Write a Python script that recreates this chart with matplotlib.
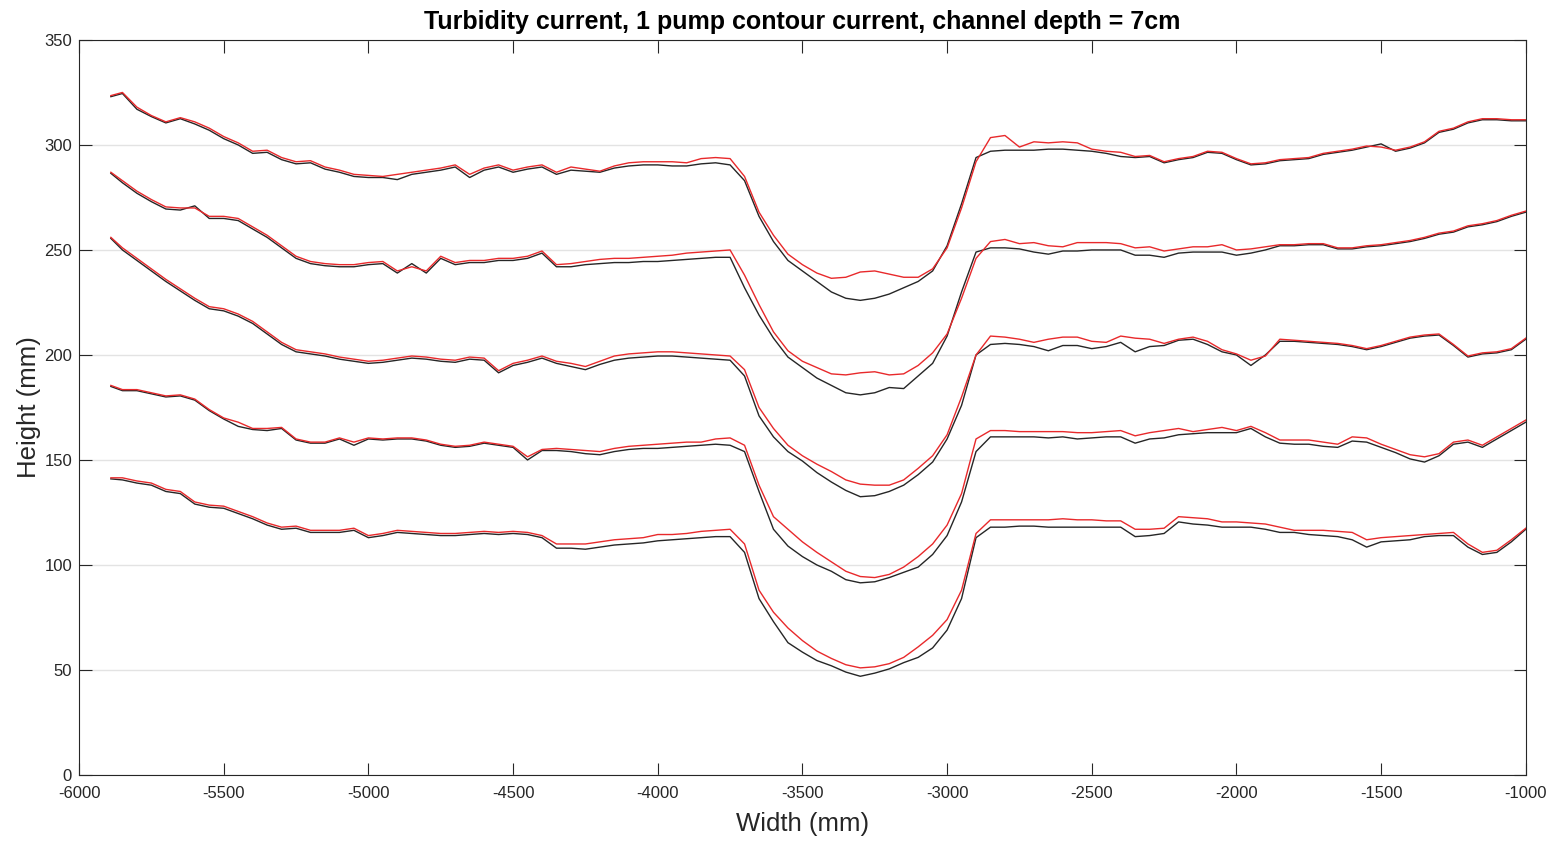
import matplotlib
matplotlib.use('Agg')
import matplotlib.pyplot as plt

plt.rcParams['font.family'] = ['Liberation Sans', 'DejaVu Sans']
plt.rcParams['axes.unicode_minus'] = False

# Width positions (mm) shared by all profiles
width_mm = [-5890] + list(range(-5850, -999, 50))

# Profile 1 (top)
black_1 = [323, 324.5, 317, 313.5, 310.5, 312.5, 310, 307, 303, 300,
           296, 296.5, 293, 291, 291.5, 288.5, 287, 285, 284.5, 284.5,
           283.5, 286, 287, 288, 289.5, 284.5, 288, 289.5, 287, 288.5,
           289.5, 286, 288, 287.5, 287, 289, 290, 290.5, 290.5, 290,
           290, 291, 291.5, 290.5, 283, 266, 254, 245, 240, 235,
           230, 227, 226, 227, 229, 232, 235, 240, 252, 272,
           294, 297, 297.5, 297.5, 297.5, 298, 298, 297.5, 297, 296,
           294.5, 294, 294.5, 291.5, 293, 294, 296.5, 296, 293, 290.5,
           291, 292.5, 293, 293.5, 295.5, 296.5, 297.5, 299, 300.5, 297,
           298.5, 301, 306, 307.5, 310.5, 312, 312, 311.5, 311.5]
red_1 = [323.5, 325, 318, 314, 311, 313, 311, 308, 304, 301,
         297, 297.5, 294, 292, 292.5, 289.5, 288, 286, 285.5, 285,
         286, 287, 288, 289, 290.5, 286, 289, 290.5, 288, 289.5,
         290.5, 287, 289.5, 288.5, 287.5, 290, 291.5, 292, 292, 292,
         291.5, 293.5, 294, 293.5, 285, 268, 257, 248, 243, 239,
         236.5, 237, 239.5, 240, 238.5, 237, 237, 241, 251, 270,
         292, 303.5, 304.5, 299, 301.5, 301, 301.5, 301, 298, 297,
         296.5, 294.5, 295, 292, 293.5, 294.5, 297, 296.5, 293.5, 291,
         291.5, 293, 293.5, 294, 296, 297, 298, 299.5, 299, 297.5,
         299, 301.5, 306.5, 308, 311, 312.5, 312.5, 312, 312]

# Profile 2
black_2 = [286.5, 282, 277, 273, 269.5, 269, 271, 265, 265, 264,
           260, 256, 251, 246, 243.5, 242.5, 242, 242, 243, 243.5,
           239, 243.5, 239, 246, 243, 244, 244, 245, 245, 246,
           248.5, 242, 242, 243, 243.5, 244, 244, 244.5, 244.5, 245,
           245.5, 246, 246.5, 246.5, 232, 219, 208, 199, 194, 189,
           185.5, 182, 181, 182, 184.5, 184, 190, 196, 209, 230,
           249, 251, 251, 250.5, 249, 248, 249.5, 249.5, 250, 250,
           250, 247.5, 247.5, 246.5, 248.5, 249, 249, 249, 247.5, 248.5,
           250, 252, 252, 252.5, 252.5, 250.5, 250.5, 251.5, 252, 253,
           254, 255.5, 257.5, 258.5, 261, 262, 263.5, 266, 268]
red_2 = [287, 283, 278, 274, 270.5, 270, 270, 266, 266, 265,
         261, 257, 252, 247, 244.5, 243.5, 243, 243, 244, 244.5,
         240, 242, 240, 247, 244, 245, 245, 246, 246, 247,
         249.5, 243, 243.5, 244.5, 245.5, 246, 246, 246.5, 247, 247.5,
         248.5, 249, 249.5, 250, 238, 224, 211, 202, 197, 194,
         191, 190.5, 191.5, 192, 190.5, 191, 195, 201, 210, 227,
         246, 254, 255, 253, 253.5, 252, 251.5, 253.5, 253.5, 253.5,
         253, 251, 251.5, 249.5, 250.5, 251.5, 251.5, 252.5, 250, 250.5,
         251.5, 252.5, 252.5, 253, 253, 251, 251, 252, 252.5, 253.5,
         254.5, 256, 258, 259, 261.5, 262.5, 264, 266.5, 268.5]

# Profile 3
black_3 = [255.5, 250, 245, 240, 235, 230.5, 226, 222, 221, 218.5,
           215, 210, 205, 201.5, 200.5, 199.5, 198, 197, 196, 196.5,
           197.5, 198.5, 198, 197, 196.5, 198, 197.5, 191.5, 195, 196.5,
           198.5, 196, 194.5, 193, 195.5, 197.5, 198.5, 199, 199.5, 199.5,
           199, 198.5, 198, 197.5, 190, 171, 161, 154, 149.5, 144,
           139.5, 135.5, 132.5, 133, 135, 138, 143, 149, 160, 176,
           200, 205, 205.5, 205, 204, 202, 204.5, 204.5, 203, 204,
           206, 201.5, 204, 204.5, 207, 207.5, 205, 201.5, 200, 195,
           200, 206.5, 206.5, 206, 205.5, 205, 204, 202.5, 204, 206,
           208, 209, 209.5, 204.5, 199, 200.5, 201, 202.5, 207.5]
red_3 = [256, 251, 246, 241, 236, 231.5, 227, 223, 222, 219.5,
         216, 211, 206, 202.5, 201.5, 200.5, 199, 198, 197, 197.5,
         198.5, 199.5, 199, 198, 197.5, 199, 198.5, 192.5, 196, 197.5,
         199.5, 197, 196, 194.5, 197, 199.5, 200.5, 201, 201.5, 201.5,
         201, 200.5, 200, 199.5, 193, 175, 165, 157, 152, 148,
         144.5, 140.5, 138.5, 138, 138, 140.5, 146, 152, 162, 180,
         200, 209, 208.5, 207.5, 206, 207.5, 208.5, 208.5, 206.5, 206,
         209, 208, 207.5, 205.5, 207.5, 208.5, 206.5, 202.5, 200.5, 197.5,
         199.5, 207.5, 207, 206.5, 206, 205.5, 204.5, 203, 204.5, 206.5,
         208.5, 209.5, 210, 205, 199.5, 201, 201.5, 203, 208]

# Profile 4
black_4 = [185, 183, 183, 181.5, 180, 180.5, 178.5, 173.5, 169.5, 166,
           164.5, 164, 165, 159.5, 158, 158, 160, 157, 160, 159.5,
           160, 160, 159, 157, 156, 156.5, 158, 157, 156, 150,
           154.5, 154.5, 154, 153, 152.5, 154, 155, 155.5, 155.5, 156,
           156.5, 157, 157.5, 157, 154, 135, 117, 109, 104, 100,
           97, 93, 91.5, 92, 94, 96.5, 99, 105, 114, 130,
           154, 161, 161, 161, 161, 160.5, 161, 160, 160.5, 161,
           161, 158, 160, 160.5, 162, 162.5, 163, 163, 163, 165,
           161, 158, 157.5, 157.5, 156.5, 156, 159, 158.5, 156, 153.5,
           150.5, 149, 152, 157.5, 158.5, 156, 160, 164, 168]
red_4 = [185.5, 183.5, 183.5, 182, 180.5, 181, 179, 174, 170, 168,
         165, 165, 165.5, 160, 158.5, 158.5, 160.5, 158.5, 160.5, 160,
         160.5, 160.5, 159.5, 157.5, 156.5, 157, 158.5, 157.5, 156.5, 151.5,
         155, 155.5, 155, 154.5, 154, 155.5, 156.5, 157, 157.5, 158,
         158.5, 158.5, 160, 160.5, 157, 138, 123, 117, 111, 106,
         101.5, 97, 94.5, 94, 95.5, 99, 104, 110, 119, 134,
         160, 164, 164, 163.5, 163.5, 163.5, 163.5, 163, 163, 163.5,
         164, 161.5, 163, 164, 165, 163.5, 164.5, 165.5, 164, 166,
         163, 159.5, 159.5, 159.5, 158.5, 157.5, 161, 160.5, 157.5, 155,
         152.5, 151.5, 153, 158.5, 159.5, 157, 161, 165, 169]

# Profile 5 (bottom)
black_5 = [141, 140.5, 139, 138, 135, 134, 129, 127.5, 127, 124.5,
           122, 119, 117, 117.5, 115.5, 115.5, 115.5, 116.5, 113, 114,
           115.5, 115, 114.5, 114, 114, 114.5, 115, 114.5, 115, 114.5,
           113, 108, 108, 107.5, 108.5, 109.5, 110, 110.5, 111.5, 112,
           112.5, 113, 113.5, 113.5, 106, 84, 73, 63, 58.5, 54.5,
           52, 49, 47, 48.5, 50.5, 53.5, 56, 60.5, 69, 84,
           113, 118, 118, 118.5, 118.5, 118, 118, 118, 118, 118,
           118, 113.5, 114, 115, 120.5, 119.5, 119, 118, 118, 118,
           117, 115.5, 115.5, 114.5, 114, 113.5, 112, 108.5, 111, 111.5,
           112, 113.5, 114, 114, 108.5, 105, 106, 111, 117]
red_5 = [141.5, 141.5, 140, 139, 136, 135, 130, 128.5, 128, 125.5,
         123, 120, 118, 118.5, 116.5, 116.5, 116.5, 117.5, 114, 115,
         116.5, 116, 115.5, 115, 115, 115.5, 116, 115.5, 116, 115.5,
         114, 110, 110, 110, 111, 112, 112.5, 113, 114.5, 114.5,
         115, 116, 116.5, 117, 110, 88, 77.5, 70, 64, 59,
         55.5, 52.5, 51, 51.5, 53, 56, 61, 66.5, 74, 88,
         115, 121.5, 121.5, 121.5, 121.5, 121.5, 122, 121.5, 121.5, 121,
         121, 117, 117, 117.5, 123, 122.5, 122, 120.5, 120.5, 120,
         119.5, 118, 116.5, 116.5, 116.5, 116, 115.5, 112, 113, 113.5,
         114, 114.5, 115, 115.5, 110, 106, 107, 112, 117.5]

black_profiles = [black_1, black_2, black_3, black_4, black_5]
red_profiles = [red_1, red_2, red_3, red_4, red_5]

fig = plt.figure(figsize=(15.59, 8.41), dpi=100)
ax = fig.add_axes([0.0507, 0.0785, 0.928, 0.874])

for blk, red in zip(black_profiles, red_profiles):
    ax.plot(width_mm, blk, color='#262626', linewidth=1.0)
    ax.plot(width_mm, red, color='#e8292b', linewidth=1.0)

ax.set_xlim(-6000, -1000)
ax.set_ylim(0, 350)
ax.set_xticks(range(-6000, -999, 500))
ax.set_yticks(range(0, 351, 50))
ax.yaxis.grid(True, color='#e3e3e3', linewidth=1.0)
ax.set_axisbelow(True)
ax.tick_params(direction='in', length=9, width=0.8, top=True, right=True,
               labelsize=12, colors='#262626')
ax.tick_params(axis='x', pad=8)
ax.tick_params(axis='y', pad=5)
for s in ax.spines.values():
    s.set_color('#262626')
    s.set_linewidth(0.8)

ax.set_title('Turbidity current, 1 pump contour current, channel depth = 7cm',
             fontsize=18, fontweight='bold', pad=8)
ax.set_xlabel('Width (mm)', fontsize=18.5, color='#262626', labelpad=8)
ax.set_ylabel('Height (mm)', fontsize=18.5, color='#262626', labelpad=2)

fig.savefig('out.png', dpi=100)
